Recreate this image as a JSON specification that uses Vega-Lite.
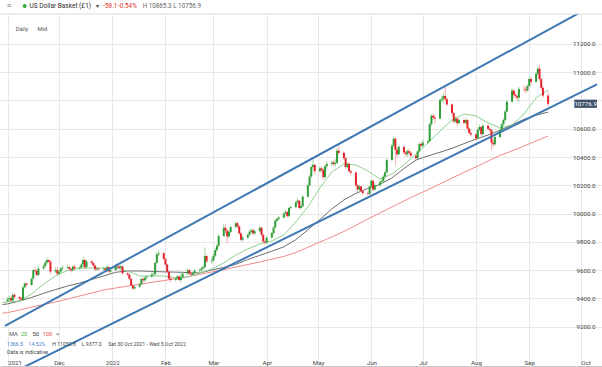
{
"$schema": "https://vega.github.io/schema/vega-lite/v6.json",
"width": 602, "height": 352,
"autosize": {"type": "none"},
"padding": {"top": 14, "left": 0, "right": 0, "bottom": 1},
"background": "white",
"config": {"view": {"stroke": null}, "font": "Roboto", "text": {"font": "Roboto"}},
"data": {"values": [{}]},
"datasets": {
"c": [
{"d":"2021-11-01","o":9380,"h":9410,"l":9377,"c":9395},{"d":"2021-11-02","o":9395,"h":9420,"l":9380,"c":9402},{"d":"2021-11-03","o":9402,"h":9415,"l":9378,"c":9385},{"d":"2021-11-04","o":9385,"h":9440,"l":9380,"c":9425},{"d":"2021-11-05","o":9425,"h":9436,"l":9395,"c":9410},
{"d":"2021-11-08","o":9410,"h":9420,"l":9388,"c":9400},{"d":"2021-11-09","o":9400,"h":9412,"l":9380,"c":9390},{"d":"2021-11-10","o":9390,"h":9485,"l":9385,"c":9478},{"d":"2021-11-11","o":9478,"h":9515,"l":9470,"c":9505},{"d":"2021-11-12","o":9505,"h":9512,"l":9482,"c":9495},
{"d":"2021-11-15","o":9495,"h":9548,"l":9488,"c":9540},{"d":"2021-11-16","o":9540,"h":9610,"l":9535,"c":9600},{"d":"2021-11-17","o":9600,"h":9625,"l":9585,"c":9595},{"d":"2021-11-18","o":9595,"h":9605,"l":9555,"c":9565},{"d":"2021-11-19","o":9565,"h":9630,"l":9560,"c":9612},
{"d":"2021-11-22","o":9612,"h":9640,"l":9600,"c":9628},{"d":"2021-11-23","o":9628,"h":9665,"l":9620,"c":9655},{"d":"2021-11-24","o":9655,"h":9690,"l":9645,"c":9672},{"d":"2021-11-25","o":9672,"h":9680,"l":9650,"c":9660},{"d":"2021-11-26","o":9660,"h":9668,"l":9570,"c":9590},
{"d":"2021-11-29","o":9590,"h":9620,"l":9580,"c":9600},{"d":"2021-11-30","o":9600,"h":9625,"l":9560,"c":9575},{"d":"2021-12-01","o":9575,"h":9600,"l":9560,"c":9590},{"d":"2021-12-02","o":9590,"h":9620,"l":9580,"c":9612},{"d":"2021-12-03","o":9612,"h":9635,"l":9598,"c":9618},
{"d":"2021-12-06","o":9618,"h":9640,"l":9605,"c":9622},{"d":"2021-12-07","o":9622,"h":9630,"l":9595,"c":9608},{"d":"2021-12-08","o":9608,"h":9615,"l":9585,"c":9598},{"d":"2021-12-09","o":9598,"h":9632,"l":9590,"c":9625},{"d":"2021-12-10","o":9625,"h":9640,"l":9600,"c":9612},
{"d":"2021-12-13","o":9612,"h":9628,"l":9600,"c":9618},{"d":"2021-12-14","o":9618,"h":9652,"l":9610,"c":9640},{"d":"2021-12-15","o":9640,"h":9695,"l":9622,"c":9672},{"d":"2021-12-16","o":9672,"h":9680,"l":9605,"c":9620},{"d":"2021-12-17","o":9620,"h":9672,"l":9612,"c":9662},
{"d":"2021-12-20","o":9662,"h":9675,"l":9640,"c":9650},{"d":"2021-12-21","o":9650,"h":9660,"l":9620,"c":9632},{"d":"2021-12-22","o":9632,"h":9640,"l":9595,"c":9605},{"d":"2021-12-23","o":9605,"h":9625,"l":9595,"c":9612},{"d":"2021-12-24","o":9612,"h":9618,"l":9598,"c":9606},
{"d":"2021-12-27","o":9606,"h":9625,"l":9598,"c":9612},{"d":"2021-12-28","o":9612,"h":9620,"l":9590,"c":9600},{"d":"2021-12-29","o":9600,"h":9635,"l":9592,"c":9622},{"d":"2021-12-30","o":9622,"h":9628,"l":9580,"c":9590},{"d":"2021-12-31","o":9590,"h":9612,"l":9575,"c":9600},
{"d":"2022-01-03","o":9600,"h":9640,"l":9595,"c":9632},{"d":"2022-01-04","o":9632,"h":9648,"l":9612,"c":9625},{"d":"2022-01-05","o":9625,"h":9640,"l":9605,"c":9615},{"d":"2022-01-06","o":9615,"h":9640,"l":9600,"c":9626},{"d":"2022-01-07","o":9626,"h":9632,"l":9570,"c":9578},
{"d":"2022-01-10","o":9578,"h":9590,"l":9555,"c":9568},{"d":"2022-01-11","o":9568,"h":9575,"l":9530,"c":9538},{"d":"2022-01-12","o":9538,"h":9545,"l":9485,"c":9492},{"d":"2022-01-13","o":9492,"h":9500,"l":9460,"c":9470},{"d":"2022-01-14","o":9470,"h":9495,"l":9462,"c":9482},
{"d":"2022-01-17","o":9482,"h":9512,"l":9475,"c":9500},{"d":"2022-01-18","o":9500,"h":9545,"l":9495,"c":9538},{"d":"2022-01-19","o":9538,"h":9550,"l":9515,"c":9528},{"d":"2022-01-20","o":9528,"h":9556,"l":9518,"c":9546},{"d":"2022-01-21","o":9546,"h":9565,"l":9535,"c":9555},
{"d":"2022-01-24","o":9555,"h":9585,"l":9545,"c":9568},{"d":"2022-01-25","o":9568,"h":9590,"l":9555,"c":9572},{"d":"2022-01-26","o":9572,"h":9660,"l":9560,"c":9652},{"d":"2022-01-27","o":9652,"h":9725,"l":9645,"c":9712},{"d":"2022-01-28","o":9712,"h":9742,"l":9700,"c":9720},
{"d":"2022-01-31","o":9720,"h":9728,"l":9672,"c":9680},{"d":"2022-02-01","o":9680,"h":9688,"l":9630,"c":9640},{"d":"2022-02-02","o":9640,"h":9645,"l":9580,"c":9588},{"d":"2022-02-03","o":9588,"h":9595,"l":9530,"c":9540},{"d":"2022-02-04","o":9540,"h":9560,"l":9515,"c":9530},
{"d":"2022-02-07","o":9530,"h":9552,"l":9520,"c":9540},{"d":"2022-02-08","o":9540,"h":9565,"l":9532,"c":9556},{"d":"2022-02-09","o":9556,"h":9560,"l":9522,"c":9530},{"d":"2022-02-10","o":9530,"h":9590,"l":9510,"c":9548},{"d":"2022-02-11","o":9548,"h":9590,"l":9540,"c":9575},
{"d":"2022-02-14","o":9575,"h":9612,"l":9565,"c":9600},{"d":"2022-02-15","o":9600,"h":9608,"l":9568,"c":9576},{"d":"2022-02-16","o":9576,"h":9585,"l":9555,"c":9568},{"d":"2022-02-17","o":9568,"h":9590,"l":9560,"c":9580},{"d":"2022-02-18","o":9580,"h":9610,"l":9572,"c":9596},
{"d":"2022-02-21","o":9596,"h":9615,"l":9585,"c":9600},{"d":"2022-02-22","o":9600,"h":9625,"l":9590,"c":9612},{"d":"2022-02-23","o":9612,"h":9635,"l":9605,"c":9622},{"d":"2022-02-24","o":9622,"h":9762,"l":9610,"c":9700},{"d":"2022-02-25","o":9700,"h":9710,"l":9650,"c":9662},
{"d":"2022-02-28","o":9662,"h":9690,"l":9645,"c":9668},{"d":"2022-03-01","o":9668,"h":9720,"l":9660,"c":9702},{"d":"2022-03-02","o":9702,"h":9755,"l":9690,"c":9742},{"d":"2022-03-03","o":9742,"h":9785,"l":9730,"c":9772},{"d":"2022-03-04","o":9772,"h":9855,"l":9765,"c":9842},
{"d":"2022-03-07","o":9842,"h":9930,"l":9835,"c":9900},{"d":"2022-03-08","o":9900,"h":9925,"l":9860,"c":9880},{"d":"2022-03-09","o":9880,"h":9888,"l":9790,"c":9838},{"d":"2022-03-10","o":9838,"h":9885,"l":9825,"c":9870},{"d":"2022-03-11","o":9870,"h":9915,"l":9860,"c":9905},
{"d":"2022-03-14","o":9905,"h":9945,"l":9895,"c":9932},{"d":"2022-03-15","o":9932,"h":9942,"l":9898,"c":9910},{"d":"2022-03-16","o":9910,"h":9918,"l":9850,"c":9860},{"d":"2022-03-17","o":9860,"h":9868,"l":9805,"c":9815},{"d":"2022-03-18","o":9815,"h":9848,"l":9800,"c":9830},
{"d":"2022-03-21","o":9830,"h":9862,"l":9822,"c":9850},{"d":"2022-03-22","o":9850,"h":9885,"l":9840,"c":9872},{"d":"2022-03-23","o":9872,"h":9895,"l":9860,"c":9882},{"d":"2022-03-24","o":9882,"h":9892,"l":9848,"c":9860},{"d":"2022-03-25","o":9860,"h":9888,"l":9850,"c":9876},
{"d":"2022-03-28","o":9876,"h":9915,"l":9868,"c":9900},{"d":"2022-03-29","o":9900,"h":9908,"l":9838,"c":9850},{"d":"2022-03-30","o":9850,"h":9858,"l":9790,"c":9802},{"d":"2022-03-31","o":9802,"h":9815,"l":9780,"c":9795},{"d":"2022-04-01","o":9795,"h":9842,"l":9785,"c":9830},
{"d":"2022-04-04","o":9830,"h":9872,"l":9822,"c":9862},{"d":"2022-04-05","o":9862,"h":9912,"l":9850,"c":9902},{"d":"2022-04-06","o":9902,"h":9962,"l":9895,"c":9950},{"d":"2022-04-07","o":9950,"h":9978,"l":9938,"c":9962},{"d":"2022-04-08","o":9962,"h":9985,"l":9950,"c":9972},
{"d":"2022-04-11","o":9972,"h":10015,"l":9965,"c":10000},{"d":"2022-04-12","o":10000,"h":10030,"l":9990,"c":10012},{"d":"2022-04-13","o":10012,"h":10022,"l":9970,"c":9982},{"d":"2022-04-14","o":9982,"h":10050,"l":9975,"c":10040},{"d":"2022-04-15","o":10040,"h":10058,"l":10030,"c":10046},
{"d":"2022-04-18","o":10046,"h":10092,"l":10038,"c":10080},{"d":"2022-04-19","o":10080,"h":10110,"l":10070,"c":10092},{"d":"2022-04-20","o":10092,"h":10098,"l":10030,"c":10040},{"d":"2022-04-21","o":10040,"h":10072,"l":10028,"c":10052},{"d":"2022-04-22","o":10052,"h":10130,"l":10045,"c":10120},
{"d":"2022-04-25","o":10120,"h":10212,"l":10110,"c":10200},{"d":"2022-04-26","o":10200,"h":10275,"l":10190,"c":10262},{"d":"2022-04-27","o":10262,"h":10345,"l":10255,"c":10330},{"d":"2022-04-28","o":10330,"h":10380,"l":10320,"c":10345},{"d":"2022-04-29","o":10345,"h":10352,"l":10280,"c":10300},
{"d":"2022-05-02","o":10300,"h":10335,"l":10290,"c":10320},{"d":"2022-05-03","o":10320,"h":10330,"l":10290,"c":10308},{"d":"2022-05-04","o":10308,"h":10320,"l":10240,"c":10258},{"d":"2022-05-05","o":10258,"h":10345,"l":10250,"c":10335},{"d":"2022-05-06","o":10335,"h":10370,"l":10320,"c":10352},
{"d":"2022-05-09","o":10352,"h":10375,"l":10335,"c":10362},{"d":"2022-05-10","o":10362,"h":10378,"l":10338,"c":10350},{"d":"2022-05-11","o":10350,"h":10385,"l":10335,"c":10360},{"d":"2022-05-12","o":10360,"h":10462,"l":10350,"c":10445},{"d":"2022-05-13","o":10445,"h":10484,"l":10418,"c":10430},
{"d":"2022-05-16","o":10430,"h":10438,"l":10380,"c":10392},{"d":"2022-05-17","o":10392,"h":10400,"l":10318,"c":10330},{"d":"2022-05-18","o":10330,"h":10365,"l":10320,"c":10352},{"d":"2022-05-19","o":10352,"h":10360,"l":10288,"c":10300},{"d":"2022-05-20","o":10300,"h":10310,"l":10270,"c":10290},
{"d":"2022-05-23","o":10290,"h":10298,"l":10190,"c":10200},{"d":"2022-05-24","o":10200,"h":10210,"l":10155,"c":10170},{"d":"2022-05-25","o":10170,"h":10205,"l":10160,"c":10192},{"d":"2022-05-26","o":10192,"h":10198,"l":10150,"c":10160},{"d":"2022-05-27","o":10160,"h":10170,"l":10130,"c":10145},
{"d":"2022-05-30","o":10145,"h":10158,"l":10125,"c":10140},{"d":"2022-05-31","o":10140,"h":10202,"l":10132,"c":10192},{"d":"2022-06-01","o":10192,"h":10245,"l":10180,"c":10232},{"d":"2022-06-02","o":10232,"h":10240,"l":10160,"c":10170},{"d":"2022-06-03","o":10170,"h":10215,"l":10162,"c":10200},
{"d":"2022-06-06","o":10200,"h":10235,"l":10190,"c":10222},{"d":"2022-06-07","o":10222,"h":10250,"l":10210,"c":10230},{"d":"2022-06-08","o":10230,"h":10275,"l":10220,"c":10262},{"d":"2022-06-09","o":10262,"h":10305,"l":10250,"c":10292},{"d":"2022-06-10","o":10292,"h":10392,"l":10285,"c":10380},
{"d":"2022-06-13","o":10380,"h":10492,"l":10370,"c":10480},{"d":"2022-06-14","o":10480,"h":10545,"l":10470,"c":10530},{"d":"2022-06-15","o":10530,"h":10540,"l":10340,"c":10452},{"d":"2022-06-16","o":10452,"h":10470,"l":10395,"c":10420},{"d":"2022-06-17","o":10420,"h":10485,"l":10410,"c":10472},
{"d":"2022-06-20","o":10472,"h":10480,"l":10420,"c":10432},{"d":"2022-06-21","o":10432,"h":10448,"l":10405,"c":10420},{"d":"2022-06-22","o":10420,"h":10455,"l":10400,"c":10442},{"d":"2022-06-23","o":10442,"h":10458,"l":10418,"c":10430},{"d":"2022-06-24","o":10430,"h":10440,"l":10398,"c":10410},
{"d":"2022-06-27","o":10410,"h":10420,"l":10378,"c":10392},{"d":"2022-06-28","o":10392,"h":10450,"l":10385,"c":10440},{"d":"2022-06-29","o":10440,"h":10505,"l":10432,"c":10492},{"d":"2022-06-30","o":10492,"h":10510,"l":10465,"c":10480},{"d":"2022-07-01","o":10480,"h":10520,"l":10470,"c":10502},
{"d":"2022-07-04","o":10502,"h":10525,"l":10495,"c":10512},{"d":"2022-07-05","o":10512,"h":10645,"l":10505,"c":10632},{"d":"2022-07-06","o":10632,"h":10705,"l":10620,"c":10692},{"d":"2022-07-07","o":10692,"h":10710,"l":10665,"c":10680},{"d":"2022-07-08","o":10680,"h":10700,"l":10640,"c":10672},
{"d":"2022-07-11","o":10672,"h":10815,"l":10665,"c":10802},{"d":"2022-07-12","o":10802,"h":10835,"l":10790,"c":10812},{"d":"2022-07-13","o":10812,"h":10850,"l":10780,"c":10832},{"d":"2022-07-14","o":10832,"h":10895,"l":10795,"c":10810},{"d":"2022-07-15","o":10810,"h":10822,"l":10760,"c":10772},
{"d":"2022-07-18","o":10772,"h":10780,"l":10700,"c":10712},{"d":"2022-07-19","o":10712,"h":10720,"l":10640,"c":10652},{"d":"2022-07-20","o":10652,"h":10690,"l":10640,"c":10672},{"d":"2022-07-21","o":10672,"h":10685,"l":10620,"c":10640},{"d":"2022-07-22","o":10640,"h":10678,"l":10632,"c":10662},
{"d":"2022-07-25","o":10662,"h":10670,"l":10630,"c":10642},{"d":"2022-07-26","o":10642,"h":10675,"l":10635,"c":10662},{"d":"2022-07-27","o":10662,"h":10672,"l":10590,"c":10602},{"d":"2022-07-28","o":10602,"h":10610,"l":10555,"c":10570},{"d":"2022-07-29","o":10570,"h":10590,"l":10545,"c":10560},
{"d":"2022-08-01","o":10560,"h":10570,"l":10520,"c":10532},{"d":"2022-08-02","o":10532,"h":10605,"l":10525,"c":10592},{"d":"2022-08-03","o":10592,"h":10630,"l":10580,"c":10612},{"d":"2022-08-04","o":10612,"h":10620,"l":10550,"c":10562},{"d":"2022-08-05","o":10562,"h":10635,"l":10555,"c":10622},
{"d":"2022-08-08","o":10622,"h":10630,"l":10590,"c":10600},{"d":"2022-08-09","o":10600,"h":10612,"l":10578,"c":10590},{"d":"2022-08-10","o":10590,"h":10598,"l":10450,"c":10502},{"d":"2022-08-11","o":10502,"h":10525,"l":10470,"c":10490},{"d":"2022-08-12","o":10490,"h":10552,"l":10482,"c":10542},
{"d":"2022-08-15","o":10542,"h":10605,"l":10535,"c":10592},{"d":"2022-08-16","o":10592,"h":10645,"l":10580,"c":10632},{"d":"2022-08-17","o":10632,"h":10675,"l":10620,"c":10662},{"d":"2022-08-18","o":10662,"h":10735,"l":10655,"c":10722},{"d":"2022-08-19","o":10722,"h":10805,"l":10715,"c":10792},
{"d":"2022-08-22","o":10792,"h":10885,"l":10785,"c":10870},{"d":"2022-08-23","o":10870,"h":10882,"l":10815,"c":10840},{"d":"2022-08-24","o":10840,"h":10858,"l":10815,"c":10832},{"d":"2022-08-25","o":10832,"h":10845,"l":10800,"c":10820},{"d":"2022-08-26","o":10820,"h":10895,"l":10790,"c":10882},
{"d":"2022-08-29","o":10882,"h":10905,"l":10860,"c":10880},{"d":"2022-08-30","o":10880,"h":10900,"l":10850,"c":10872},{"d":"2022-08-31","o":10872,"h":10915,"l":10862,"c":10902},{"d":"2022-09-01","o":10902,"h":10968,"l":10895,"c":10952},{"d":"2022-09-02","o":10952,"h":10965,"l":10905,"c":10932},
{"d":"2022-09-05","o":10932,"h":11005,"l":10925,"c":10990},{"d":"2022-09-06","o":10990,"h":11040,"l":10975,"c":11025},{"d":"2022-09-07","o":11025,"h":11053,"l":10940,"c":10952},{"d":"2022-09-08","o":10952,"h":10965,"l":10875,"c":10890},{"d":"2022-09-09","o":10890,"h":10900,"l":10820,"c":10835},
{"d":"2022-09-12","o":10835,"h":10865,"l":10757,"c":10777}
],
"ma": [
{"d":"2021-10-29","m20":9370,"m50":9357,"m100":9295},
{"d":"2021-11-01","m20":9375,"m50":9361,"m100":9300},{"d":"2021-11-08","m20":9382,"m50":9382,"m100":9318},{"d":"2021-11-15","m20":9431,"m50":9407,"m100":9339},{"d":"2021-11-22","m20":9502,"m50":9436,"m100":9357},{"d":"2021-11-29","m20":9559,"m50":9463,"m100":9375},
{"d":"2021-12-06","m20":9598,"m50":9488,"m100":9396},{"d":"2021-12-13","m20":9615,"m50":9509,"m100":9417},{"d":"2021-12-20","m20":9615,"m50":9534,"m100":9438},{"d":"2021-12-27","m20":9615,"m50":9559,"m100":9460},{"d":"2022-01-03","m20":9615,"m50":9585,"m100":9474},
{"d":"2022-01-10","m20":9594,"m50":9594,"m100":9487},{"d":"2022-01-17","m20":9559,"m50":9594,"m100":9500},{"d":"2022-01-24","m20":9559,"m50":9591,"m100":9514},{"d":"2022-01-31","m20":9559,"m50":9588,"m100":9526},{"d":"2022-02-07","m20":9545,"m50":9586,"m100":9540},
{"d":"2022-02-14","m20":9552,"m50":9583,"m100":9554},{"d":"2022-02-21","m20":9580,"m50":9580,"m100":9570},{"d":"2022-02-28","m20":9608,"m50":9601,"m100":9587},{"d":"2022-03-07","m20":9651,"m50":9619,"m100":9604},{"d":"2022-03-14","m20":9707,"m50":9641,"m100":9622},
{"d":"2022-03-21","m20":9750,"m50":9675,"m100":9640},{"d":"2022-03-28","m20":9785,"m50":9705,"m100":9658},{"d":"2022-04-04","m20":9806,"m50":9734,"m100":9678},{"d":"2022-04-11","m20":9849,"m50":9765,"m100":9697},{"d":"2022-04-18","m20":9941,"m50":9816,"m100":9725},
{"d":"2022-04-25","m20":10047,"m50":9885,"m100":9762},{"d":"2022-05-02","m20":10181,"m50":9958,"m100":9799},{"d":"2022-05-09","m20":10295,"m50":10033,"m100":9835},{"d":"2022-05-16","m20":10351,"m50":10097,"m100":9874},{"d":"2022-05-23","m20":10344,"m50":10143,"m100":9917},
{"d":"2022-05-30","m20":10302,"m50":10178,"m100":9962},{"d":"2022-06-06","m20":10245,"m50":10206,"m100":10004},{"d":"2022-06-13","m20":10280,"m50":10252,"m100":10047},{"d":"2022-06-20","m20":10344,"m50":10319,"m100":10089},{"d":"2022-06-27","m20":10422,"m50":10379,"m100":10130},
{"d":"2022-07-04","m20":10500,"m50":10408,"m100":10169},{"d":"2022-07-11","m20":10585,"m50":10434,"m100":10210},{"d":"2022-07-18","m20":10662,"m50":10462,"m100":10251},{"d":"2022-07-25","m20":10705,"m50":10495,"m100":10292},{"d":"2022-08-01","m20":10691,"m50":10527,"m100":10331},
{"d":"2022-08-08","m20":10641,"m50":10556,"m100":10372},{"d":"2022-08-15","m20":10606,"m50":10589,"m100":10412},{"d":"2022-08-22","m20":10627,"m50":10628,"m100":10444},{"d":"2022-08-29","m20":10705,"m50":10667,"m100":10478},{"d":"2022-09-05","m20":10818,"m50":10696,"m100":10514},
{"d":"2022-09-12","m20":10875,"m50":10718,"m100":10549}
],
"ch": [
{"k":"upper","d":"2021-10-30T12:00:00Z","v":9205},{"k":"upper","d":"2022-10-10T12:00:00Z","v":11488},
{"k":"lower","d":"2021-10-30T12:00:00Z","v":8848},{"k":"lower","d":"2022-10-10T12:00:00Z","v":10914}
]
},
"layer": [
{"data": {"name": "ma"}, "mark": {"type": "line", "color": "#f08a8a", "strokeWidth": 1, "clip": true},
 "encoding": {
  "x": {"field": "d", "type": "temporal", "title": null,
   "scale": {"type": "utc", "nice": false, "domain": [{"year": 2021, "month": 10, "date": 30, "hours": 12, "utc": true}, {"year": 2022, "month": 10, "date": 10, "hours": 12, "utc": true}]},
   "axis": {"values": [{"year": 2021, "month": 11, "date": 1, "utc": true}, {"year": 2021, "month": 12, "date": 1, "utc": true}, {"year": 2022, "month": 1, "date": 1, "utc": true}, {"year": 2022, "month": 2, "date": 1, "utc": true}, {"year": 2022, "month": 3, "date": 1, "utc": true}, {"year": 2022, "month": 4, "date": 1, "utc": true}, {"year": 2022, "month": 5, "date": 1, "utc": true}, {"year": 2022, "month": 6, "date": 1, "utc": true}, {"year": 2022, "month": 7, "date": 1, "utc": true}, {"year": 2022, "month": 8, "date": 1, "utc": true}, {"year": 2022, "month": 9, "date": 1, "utc": true}, {"year": 2022, "month": 10, "date": 1, "utc": true}],
    "tickCount": 40,
    "labelExpr": "utcFormat(datum.value, '%m') == '01' ? utcFormat(datum.value, '%Y') : (utcFormat(datum.value, '%Y-%m') == '2021-11' ? '2021' : utcFormat(datum.value, '%b'))",
    "labelAlign": {"condition": {"test": "utcFormat(datum.value, '%Y-%m') == '2021-11' || utcFormat(datum.value, '%m') == '10'", "value": "left"}, "value": "center"},
    "labelFlush": false, "labelOverlap": false, "grid": true, "gridColor": "#e8e8e8", "ticks": false, "tickSize": 0, "labelPadding": -1, "labelBaseline": "bottom",
    "domainColor": "#c8c8c8", "labelColor": "#444", "labelFontSize": 6.2, "labelFont": "Roboto"}},
  "y": {"field": "m100", "type": "quantitative", "title": null,
   "scale": {"domain": [8922, 11412], "nice": false, "zero": false},
   "axis": {"orient": "right", "values": [9200, 9400, 9600, 9800, 10000, 10200, 10400, 10600, 11000, 11200], "tickCount": 40, "format": ".1f",
    "labelAlign": "right", "labelPadding": -7, "labelBaseline": "middle", "labelOverlap": false, "ticks": false, "tickSize": 0, "domain": false,
    "grid": true, "gridColor": "#e8e8e8", "labelColor": "#444", "labelFontSize": 6.2, "labelFont": "Roboto"}}
 }},
{"mark": {"type": "rule", "color": "#e8e8e8", "strokeWidth": 1}, "encoding": {"y": {"datum": 10800}}},
{"data": {"name": "ma"}, "mark": {"type": "line", "color": "#6e6e6e", "strokeWidth": 1, "clip": true},
 "encoding": {"x": {"field": "d", "type": "temporal", "title": null}, "y": {"field": "m50", "type": "quantitative", "title": null}}},
{"data": {"name": "ma"}, "mark": {"type": "line", "color": "#8fd08f", "strokeWidth": 1, "clip": true},
 "encoding": {"x": {"field": "d", "type": "temporal", "title": null}, "y": {"field": "m20", "type": "quantitative", "title": null}}},
{"data": {"name": "c"}, "mark": {"type": "rule", "strokeWidth": 0.8},
 "encoding": {"x": {"field": "d", "type": "temporal", "title": null}, "y": {"field": "l", "type": "quantitative", "title": null}, "y2": {"field": "h"},
  "color": {"condition": {"test": "datum.c >= datum.o", "value": "#8ccf8c"}, "value": "#f29a9a"}}},
{"data": {"name": "c"}, "mark": {"type": "bar", "size": 2},
 "encoding": {"x": {"field": "d", "type": "temporal", "title": null}, "y": {"field": "o", "type": "quantitative", "title": null}, "y2": {"field": "c"},
  "color": {"condition": {"test": "datum.c >= datum.o", "value": "#2f9e3a"}, "value": "#e3232c"}}},
{"data": {"name": "ch"}, "mark": {"type": "line", "color": "#3f78b3", "strokeWidth": 2, "clip": true},
 "encoding": {"x": {"field": "d", "type": "temporal", "title": null}, "y": {"field": "v", "type": "quantitative", "title": null}, "detail": {"field": "k"}}},
{"mark": {"type": "rule", "color": "#dcdcdc", "strokeWidth": 1}, "encoding": {"y": {"datum": 11412}}},
{"mark": {"type": "rect", "color": "#3e5269"},
 "encoding": {"x": {"datum": {"year": 2022, "month": 9, "date": 27, "hours": 7, "utc": true}, "type": "temporal"}, "x2": {"datum": {"year": 2022, "month": 10, "date": 10, "hours": 12, "utc": true}},
  "y": {"datum": 10748}, "y2": {"datum": 10806}}},
{"mark": {"type": "text", "text": "10776.9", "color": "white", "fontSize": 6.2, "align": "center", "baseline": "middle"},
 "encoding": {"x": {"datum": {"year": 2022, "month": 10, "date": 3, "hours": 21, "utc": true}, "type": "temporal"}, "y": {"datum": 10777}}},
{"mark": {"type": "text", "text": "≡", "color": "#777", "fontSize": 8, "align": "left", "baseline": "middle"},
 "encoding": {"x": {"datum": {"year": 2021, "month": 10, "date": 31, "hours": 16, "utc": true}, "type": "temporal"}, "y": {"datum": 11469}}},
{"mark": {"type": "point", "filled": true, "color": "#2fae3a", "size": 16, "opacity": 1},
 "encoding": {"x": {"datum": {"year": 2021, "month": 11, "date": 10, "hours": 23, "utc": true}, "type": "temporal"}, "y": {"datum": 11469}}},
{"mark": {"type": "text", "text": "US Dollar Basket (£1)", "color": "#2a2a2a", "fontSize": 6.5, "align": "left", "baseline": "middle"},
 "encoding": {"x": {"datum": {"year": 2021, "month": 11, "date": 13, "hours": 20, "utc": true}, "type": "temporal"}, "y": {"datum": 11469}}},
{"mark": {"type": "text", "text": "▾", "color": "#444", "fontSize": 6, "align": "center", "baseline": "middle"},
 "encoding": {"x": {"datum": {"year": 2021, "month": 12, "date": 23, "hours": 9, "utc": true}, "type": "temporal"}, "y": {"datum": 11469}}},
{"mark": {"type": "text", "text": "-58.1", "color": "#e0322c", "fontSize": 6.3, "align": "left", "baseline": "middle"},
 "encoding": {"x": {"datum": {"year": 2021, "month": 12, "date": 26, "hours": 19, "utc": true}, "type": "temporal"}, "y": {"datum": 11469}}},
{"mark": {"type": "text", "text": "-0.54%", "color": "#e0322c", "fontSize": 6.3, "align": "left", "baseline": "middle"},
 "encoding": {"x": {"datum": {"year": 2022, "month": 1, "date": 4, "hours": 10, "utc": true}, "type": "temporal"}, "y": {"datum": 11469}}},
{"mark": {"type": "text", "text": "H 10865.3 L 10756.9", "color": "#666", "fontSize": 6.3, "align": "left", "baseline": "middle"},
 "encoding": {"x": {"datum": {"year": 2022, "month": 1, "date": 18, "hours": 17, "utc": true}, "type": "temporal"}, "y": {"datum": 11469}}},
{"mark": {"type": "text", "text": "Daily", "color": "#555", "fontSize": 5.8, "align": "left", "baseline": "middle"},
 "encoding": {"x": {"datum": {"year": 2021, "month": 11, "date": 5, "hours": 19, "utc": true}, "type": "temporal"}, "y": {"datum": 11306}}},
{"mark": {"type": "text", "text": "Mid", "color": "#555", "fontSize": 5.8, "align": "left", "baseline": "middle"},
 "encoding": {"x": {"datum": {"year": 2021, "month": 11, "date": 18, "hours": 10, "utc": true}, "type": "temporal"}, "y": {"datum": 11306}}},
{"mark": {"type": "text", "text": "MA", "color": "#555", "fontSize": 5.8, "align": "left", "baseline": "middle"},
 "encoding": {"x": {"datum": {"year": 2021, "month": 11, "date": 1, "hours": 19, "utc": true}, "type": "temporal"}, "y": {"datum": 9148}}},
{"mark": {"type": "text", "text": "20", "color": "#4caf50", "fontSize": 5.8, "align": "left", "baseline": "middle"},
 "encoding": {"x": {"datum": {"year": 2021, "month": 11, "date": 8, "hours": 16, "utc": true}, "type": "temporal"}, "y": {"datum": 9148}}},
{"mark": {"type": "text", "text": "50", "color": "#333", "fontSize": 5.8, "align": "left", "baseline": "middle"},
 "encoding": {"x": {"datum": {"year": 2021, "month": 11, "date": 15, "hours": 13, "utc": true}, "type": "temporal"}, "y": {"datum": 9148}}},
{"mark": {"type": "text", "text": "100", "color": "#e34b4b", "fontSize": 5.8, "align": "left", "baseline": "middle"},
 "encoding": {"x": {"datum": {"year": 2021, "month": 11, "date": 21, "hours": 7, "utc": true}, "type": "temporal"}, "y": {"datum": 9148}}},
{"mark": {"type": "text", "text": "×", "color": "#777", "fontSize": 5.8, "align": "left", "baseline": "middle"},
 "encoding": {"x": {"datum": {"year": 2021, "month": 11, "date": 29, "hours": 7, "utc": true}, "type": "temporal"}, "y": {"datum": 9148}}},
{"mark": {"type": "text", "text": "1366.5", "color": "#3c7fd0", "fontSize": 5.2, "align": "left", "baseline": "middle"},
 "encoding": {"x": {"datum": {"year": 2021, "month": 10, "date": 31, "hours": 16, "utc": true}, "type": "temporal"}, "y": {"datum": 9078}}},
{"mark": {"type": "text", "text": "14.52%", "color": "#3c7fd0", "fontSize": 5.2, "align": "left", "baseline": "middle"},
 "encoding": {"x": {"datum": {"year": 2021, "month": 11, "date": 13, "hours": 6, "utc": true}, "type": "temporal"}, "y": {"datum": 9078}}},
{"mark": {"type": "text", "text": "H 11052.8", "color": "#444", "fontSize": 5.2, "align": "left", "baseline": "middle"},
 "encoding": {"x": {"datum": {"year": 2021, "month": 11, "date": 27, "hours": 0, "utc": true}, "type": "temporal"}, "y": {"datum": 9078}}},
{"mark": {"type": "text", "text": "L 9377.0", "color": "#444", "fontSize": 5.2, "align": "left", "baseline": "middle"},
 "encoding": {"x": {"datum": {"year": 2021, "month": 12, "date": 14, "hours": 5, "utc": true}, "type": "temporal"}, "y": {"datum": 9078}}},
{"mark": {"type": "text", "text": "Sat 30 Oct 2021 - Wed 5 Oct 2022", "color": "#444", "fontSize": 5.2, "align": "left", "baseline": "middle"},
 "encoding": {"x": {"datum": {"year": 2021, "month": 12, "date": 29, "hours": 16, "utc": true}, "type": "temporal"}, "y": {"datum": 9078}}},
{"mark": {"type": "text", "text": "Data is indicative", "color": "#444", "fontSize": 5.4, "align": "left", "baseline": "middle"},
 "encoding": {"x": {"datum": {"year": 2021, "month": 10, "date": 31, "hours": 16, "utc": true}, "type": "temporal"}, "y": {"datum": 9021}}}
]
}
